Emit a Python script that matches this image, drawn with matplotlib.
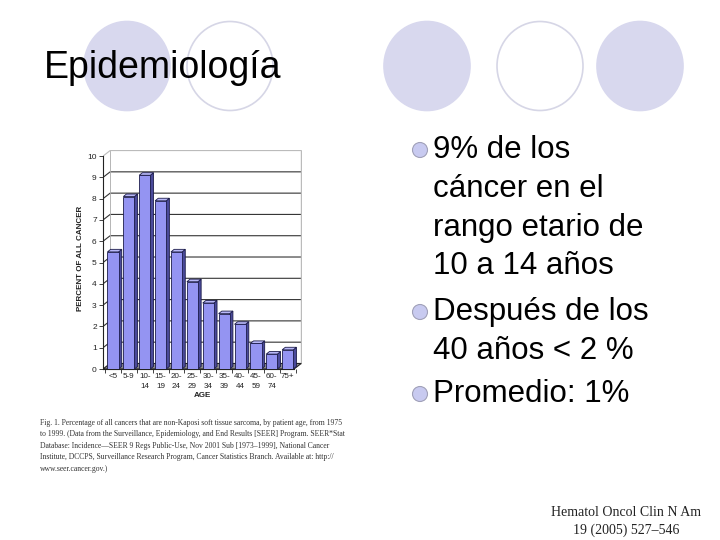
import numpy as np
import matplotlib.pyplot as plt
from matplotlib.patches import Ellipse, Polygon

# data
ages = ['<5', '5-9', '10-\n14', '15-\n19', '20-\n24', '25-\n29', '30-\n34',
        '35-\n39', '40-\n44', '45-\n59', '60-\n74', '75+']
percent = [5.5, 8.1, 9.1, 7.9, 5.5, 4.1, 3.1, 2.6, 2.1, 1.2, 0.7, 0.9]
yticks = list(range(0, 11))

bullets = [["9% de los", "cáncer en el", "rango etario de", "10 a 14 años"],
           ["Después de los", "40 años < 2 %"],
           ["Promedio: 1%"]]

caption = ["Fig. 1. Percentage of all cancers that are non-Kaposi soft tissue sarcoma, by patient age, from 1975",
           "to 1999. (Data from the Surveillance, Epidemiology, and End Results [SEER] Program. SEER*Stat",
           "Database: Incidence\u2014SEER 9 Regs Public-Use, Nov 2001 Sub [1973\u20131999], National Cancer",
           "Institute, DCCPS, Surveillance Research Program, Cancer Statistics Branch. Available at: http://",
           "www.seer.cancer.gov.)"]

W, H = 720, 540
fig = plt.figure(figsize=(7.2, 5.4), dpi=100)
fig.patch.set_facecolor('white')

def fx(px):
    return px / W

def fy(py):
    return 1 - py / H

# decorative circles
lav = '#d8d8ee'
for cx, filled in [(127, True), (230, False), (427, True), (540, False), (640, True)]:
    e = Ellipse((fx(cx), fy(66)), 86 / W, 89 / H, transform=fig.transFigure,
                facecolor=lav if filled else 'white',
                edgecolor=lav if filled else '#d6d6e6', lw=1.2, zorder=0)
    fig.add_artist(e)

fig.text(fx(44), fy(68), "Epidemiología", fontsize=27, family='Liberation Sans',
         va='center', ha='left', color='black')

# bullet text
line_y = [[150, 189, 228, 266], [312, 351], [394]]
for lines, ys in zip(bullets, line_y):
    fig.add_artist(Ellipse((fx(420), fy(ys[0])), 15 / W, 15 / H, transform=fig.transFigure,
                           facecolor='#c8caf0', edgecolor='#a0a0b8', lw=0.8))
    for t, y in zip(lines, ys):
        fig.text(fx(433), fy(y), t, fontsize=22.5, family='Liberation Sans',
                 va='center', ha='left', color='black')

# caption
for i, t in enumerate(caption):
    fig.text(fx(40), fy(423 + i * 11.4), t, fontsize=5.5, family='Liberation Serif',
             va='center', ha='left', color='#333333')

fig.text(fx(626), fy(512), "Hematol Oncol Clin N Am", fontsize=10,
         family='Liberation Serif', ha='center', va='center', color='#222222')
fig.text(fx(626), fy(530), "19 (2005) 527\u2013546", fontsize=10,
         family='Liberation Serif', ha='center', va='center', color='#222222')

# chart
ax = fig.add_axes([fx(103), fy(369), fx(302) - fx(103), (369 - 148) / H])
x = np.arange(len(percent))
xmin, xmax = -0.63, 11.9
ymax = 10.38
ax.set_xlim(xmin, xmax)
ax.set_ylim(0, ymax)

wdx, wdy = 0.45, 0.26   # back wall offset
bdx, bdy = 0.2, 0.12    # bar depth
wall_right = xmax - 0.05

for t in yticks[1:]:
    c = '#bbbbbb' if t == yticks[-1] else '#333333'
    ax.plot([xmin, xmin + wdx, wall_right], [t, t + wdy, t + wdy],
            color=c, lw=0.8, zorder=1)
ax.plot([wall_right, wall_right], [wdy, 10 + wdy], color='#bbbbbb', lw=1.0, zorder=1)
ax.plot([xmin + wdx, xmin + wdx], [wdy, 10 + wdy], color='#aaaaaa', lw=0.6, zorder=1)
# floor
floor = Polygon([[xmin, 0], [xmin + wdx, wdy], [wall_right, wdy], [wall_right - wdx, 0]],
                closed=True, facecolor='#8c8c8c', edgecolor='#222222', lw=0.8, zorder=1)
ax.add_patch(floor)

bw = 0.7
front = '#9494f2'
side = '#4a4a9a'
top = '#b8b8f8'
edge = '#1c1c4a'
for xi, v in zip(x, percent):
    l, r = xi - bw / 2, xi + bw / 2
    ax.add_patch(Polygon([[r, 0], [r + bdx, bdy], [r + bdx, v + bdy], [r, v]],
                         facecolor=side, edgecolor=edge, lw=0.6, zorder=3))
    ax.add_patch(Polygon([[l, v], [l + bdx, v + bdy], [r + bdx, v + bdy], [r, v]],
                         facecolor=top, edgecolor=edge, lw=0.6, zorder=3))
ax.bar(x, percent, width=bw, color=front, edgecolor=edge, lw=0.6, zorder=4)

for s in ['top', 'right']:
    ax.spines[s].set_visible(False)
ax.spines['left'].set_color('#222222')
ax.spines['bottom'].set_color('#222222')
ax.spines['left'].set_linewidth(0.8)
ax.spines['bottom'].set_linewidth(0.8)
ax.spines['bottom'].set_bounds(xmin, wall_right - wdx)
ax.spines['left'].set_bounds(0, 10)

ax.set_yticks(yticks)
ax.set_yticklabels([str(t) for t in yticks], fontsize=6, family='Liberation Sans',
                   color='#222222')
ax.set_xticks(x)
ax.set_xticklabels(ages, fontsize=5.8, family='Liberation Sans', color='#222222',
                   linespacing=1.5, va='top')
ax.set_xticks(np.append(x - 0.5, x[-1] + 0.5), minor=True)
ax.tick_params(axis='x', which='major', length=0, pad=3)
ax.tick_params(axis='x', which='minor', length=3, width=0.6, color='#222222')
ax.tick_params(axis='y', length=3, width=0.6, color='#222222', pad=1.5)
ax.set_ylabel("PERCENT OF ALL CANCER", fontsize=5.8, fontweight='bold',
              family='Liberation Sans', color='#222222', labelpad=2)
ax.set_xlabel("AGE", fontsize=5.8, fontweight='bold', family='Liberation Sans',
              color='#222222', labelpad=2)

fig.savefig('out.png', dpi=100, facecolor='white')
